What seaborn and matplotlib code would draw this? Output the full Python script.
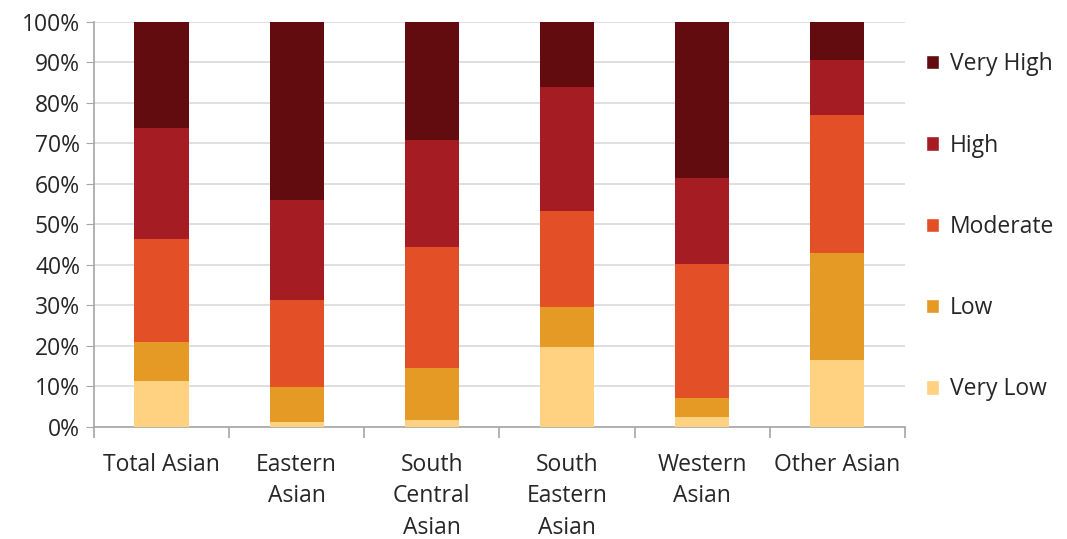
import numpy as np
import pandas as pd
import matplotlib
matplotlib.use("Agg")
import matplotlib.pyplot as plt
import seaborn as sns
from matplotlib.patches import Patch
from matplotlib.ticker import FixedLocator, PercentFormatter

regions = ["Total Asian", "Eastern\nAsian", "South\nCentral\nAsian",
           "South\nEastern\nAsian", "Western\nAsian", "Other Asian"]
levels = ["Very Low", "Low", "Moderate", "High", "Very High"]

very_low = [11.2, 1.3, 1.6, 19.8, 2.4, 16.5]
low = [9.7, 8.6, 13.0, 9.8, 4.7, 26.3]
moderate = [25.4, 21.5, 29.8, 23.7, 33.1, 34.2]
high = [27.5, 24.6, 26.5, 30.6, 21.2, 13.6]
very_high = [26.2, 44.0, 29.1, 16.1, 38.6, 9.4]

colors = ["#fed281", "#e59a26", "#e34f26", "#a51d23", "#620c0f"]

df = pd.DataFrame({"region": regions, "Very Low": very_low, "Low": low,
                   "Moderate": moderate, "High": high, "Very High": very_high})
cum = df[levels].cumsum(axis=1)
cum = cum.div(cum["Very High"], axis=0) * 100
cum["region"] = regions

sns.set_style("white")
plt.rcParams["font.family"] = ["Open Sans", "DejaVu Sans"]

fig = plt.figure(figsize=(10.67, 5.39), dpi=100)
ax = fig.add_axes([0.088, 0.208, 0.760, 0.752])

# draw cumulative totals from top level down so each layer shows
for lvl, col in zip(levels[::-1], colors[::-1]):
    sns.barplot(data=cum, x="region", y=lvl, color=col, width=0.4,
                saturation=1, ax=ax, zorder=3, edgecolor="none", linewidth=0)

ax.set_xlim(-0.5, len(regions) - 0.5)
ax.set_ylim(0, 100)
ax.set_yticks(np.arange(0, 101, 10))
ax.yaxis.set_major_formatter(PercentFormatter(decimals=0))
ax.grid(axis="y", color="#d9d9d9", lw=1.2, zorder=0)
ax.set_xlabel("")
ax.set_ylabel("")

for s in ["top", "right"]:
    ax.spines[s].set_visible(False)
for s in ["left", "bottom"]:
    ax.spines[s].set_color("#a6a6a6")
    ax.spines[s].set_linewidth(1.2)

ax.tick_params(axis="y", length=6, color="#a6a6a6", labelsize=16.5,
               labelcolor="#262626", pad=4, left=True)
ax.tick_params(axis="x", which="major", length=0, labelsize=16.5,
               labelcolor="#262626", pad=19)
ax.xaxis.set_minor_locator(FixedLocator(np.arange(-0.5, len(regions), 1)))
ax.tick_params(axis="x", which="minor", length=8, color="#a6a6a6",
               width=1.2, bottom=True)
for lab in ax.get_xticklabels():
    lab.set_linespacing(1.4)

handles = [Patch(facecolor=c, label=l) for l, c in zip(levels[::-1], colors[::-1])]
fig.legend(handles=handles, loc="upper left", bbox_to_anchor=(0.859, 0.92),
           frameon=False, fontsize=16.5, labelcolor="#262626",
           handlelength=0.6, handleheight=0.6, handletextpad=0.45,
           labelspacing=2.5, borderaxespad=0)

fig.savefig("out.png", dpi=100, facecolor="white")
